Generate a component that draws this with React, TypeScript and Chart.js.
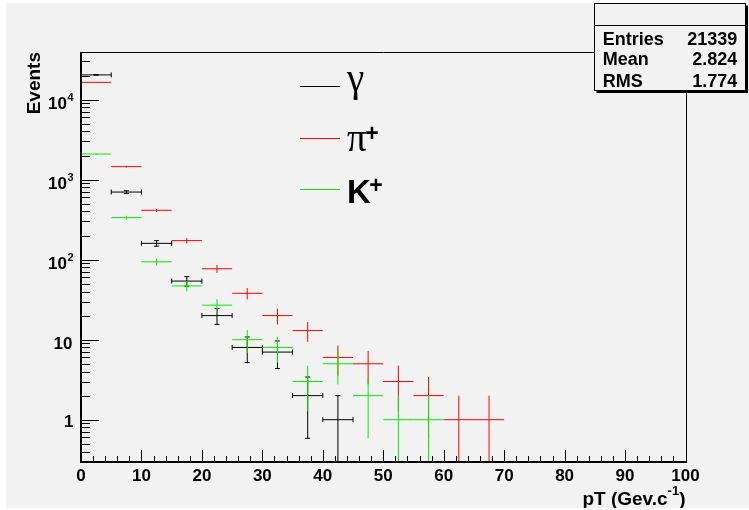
import { useEffect, useRef } from "react";
import { Chart, registerables } from "chart.js";

Chart.register(...registerables);

// pT bins (GeV/c), 5 GeV wide
const binCenters = [2.5, 7.5, 12.5, 17.5, 22.5, 27.5, 32.5, 37.5, 42.5, 47.5, 52.5, 57.5, 62.5, 67.5];
const binWidth = 5;

// event counts per bin
const gammaCounts = [20387, 700, 160, 54, 20, 8, 7, 2, 1];
const pionCounts = [16450, 1455, 414, 173, 77, 38, 20, 13, 6, 5, 3, 2, 1, 1];
const kaonCounts = [2090, 335, 94, 47, 27, 10, 8, 3, 5, 2, 1, 1];

// axes
const xTickValues = [0, 10, 20, 30, 40, 50, 60, 70, 80, 90, 100];
const yTickExponents = [0, 1, 2, 3, 4];
const xRange = [0, 100];
const yRange = [0.296, 39400];

// legend entries: [symbol, superscript]
const legendEntries: [string, string][] = [["γ", ""], ["π", "+"], ["K", "+"]];

// statistics box rows
const statsRows: [string, string][] = [
  ["Entries", "21339"],
  ["Mean", "2.824"],
  ["RMS", "1.774"],
];

const SANS = "'Liberation Sans', Arial, sans-serif";
const SERIF = "'Liberation Serif', 'Times New Roman', serif";
const BG = "#f2f2f2";

const seriesStyles = [
  { color: "#000000", caps: true },
  { color: "#ff0000", caps: false },
  { color: "#00ee00", caps: false },
];

const histoPlugin = {
  id: "histoPlugin",
  afterDatasetsDraw(chart: any) {
    const { ctx, chartArea } = chart;
    const xs = chart.scales.x;
    const ys = chart.scales.y;
    ctx.save();
    ctx.beginPath();
    ctx.rect(chartArea.left, chartArea.top, chartArea.right - chartArea.left, chartArea.bottom - chartArea.top);
    ctx.clip();
    chart.data.datasets.forEach((ds: any, i: number) => {
      const style = seriesStyles[i];
      ctx.strokeStyle = style.color;
      ctx.lineWidth = 1;
      ds.data.forEach((p: any) => {
        const xl = xs.getPixelForValue(p.x - binWidth / 2);
        const xr = xs.getPixelForValue(p.x + binWidth / 2);
        const xc = xs.getPixelForValue(p.x);
        const yc = ys.getPixelForValue(p.y);
        const err = Math.sqrt(p.y);
        const yt = ys.getPixelForValue(p.y + err);
        const lo = p.y - err;
        const yb = lo > 0 ? ys.getPixelForValue(lo) : chartArea.bottom + 2;
        ctx.beginPath();
        ctx.moveTo(xl, yc);
        ctx.lineTo(xr, yc);
        ctx.moveTo(xc, yt);
        ctx.lineTo(xc, yb);
        if (style.caps) {
          const c = 2.5;
          ctx.moveTo(xl, yc - c);
          ctx.lineTo(xl, yc + c);
          ctx.moveTo(xr, yc - c);
          ctx.lineTo(xr, yc + c);
          ctx.moveTo(xc - c, yt);
          ctx.lineTo(xc + c, yt);
          if (lo > 0) {
            ctx.moveTo(xc - c, yb);
            ctx.lineTo(xc + c, yb);
          }
        }
        ctx.stroke();
      });
    });
    ctx.restore();
  },
  afterDraw(chart: any) {
    const { ctx, chartArea } = chart;
    const xs = chart.scales.x;
    const ys = chart.scales.y;
    const { left, right, top, bottom } = chartArea;
    ctx.save();

    // frame (crisp 1px top/right, 2px axes on left/bottom)
    const L = Math.round(left), R = Math.round(right), T = Math.round(top), B = Math.round(bottom);
    ctx.strokeStyle = "#000";
    ctx.lineWidth = 1;
    ctx.beginPath();
    ctx.moveTo(L, T + 0.5);
    ctx.lineTo(R + 0.5, T + 0.5);
    ctx.lineTo(R + 0.5, B);
    ctx.stroke();
    ctx.lineWidth = 2;
    ctx.beginPath();
    ctx.moveTo(L, T);
    ctx.lineTo(L, B);
    ctx.lineTo(R + 1, B);
    ctx.stroke();

    // x ticks (inside)
    ctx.lineWidth = 1;
    ctx.beginPath();
    for (let v = xRange[0]; v <= xRange[1]; v += 2) {
      const x = Math.round(xs.getPixelForValue(v)) + 0.5;
      const len = v % 10 === 0 ? 12 : 6;
      ctx.moveTo(x, B);
      ctx.lineTo(x, B - len);
    }
    ctx.stroke();

    // y ticks (inside, logarithmic)
    ctx.beginPath();
    for (let e = -1; e <= 4; e++) {
      for (let k = 1; k <= 9; k++) {
        const v = k * Math.pow(10, e);
        if (v < yRange[0] || v > yRange[1]) continue;
        const y = Math.round(ys.getPixelForValue(v)) + 0.5;
        const len = k === 1 ? 18 : 9;
        ctx.moveTo(L, y);
        ctx.lineTo(L + len, y);
      }
    }
    ctx.stroke();

    // x tick labels
    ctx.fillStyle = "#000";
    ctx.font = `bold 17px ${SANS}`;
    ctx.textAlign = "center";
    ctx.textBaseline = "alphabetic";
    xTickValues.forEach((v) => {
      ctx.fillText(String(v), xs.getPixelForValue(v), 477.7);
    });

    // y tick labels
    const yLabelRight = 67.5;
    yTickExponents.forEach((e) => {
      const y = ys.getPixelForValue(Math.pow(10, e));
      ctx.textAlign = "right";
      if (e === 0) {
        ctx.font = `bold 17px ${SANS}`;
        ctx.fillText("1", yLabelRight, y + 7);
      } else if (e === 1) {
        ctx.font = `bold 17px ${SANS}`;
        ctx.fillText("10", yLabelRight - 1, y + 9);
      } else {
        ctx.font = `bold 11px ${SANS}`;
        const sup = String(e);
        const sw = ctx.measureText(sup).width;
        ctx.fillText(sup, yLabelRight, y + 1.5);
        ctx.font = `bold 17px ${SANS}`;
        ctx.fillText("10", yLabelRight - sw - 0.5, y + 9);
      }
    });

    // y title
    ctx.save();
    ctx.translate(34, top);
    ctx.rotate(-Math.PI / 2);
    ctx.font = `bold 19px ${SANS}`;
    ctx.textAlign = "right";
    ctx.fillText("Events", 0, 0);
    ctx.restore();

    // x title: pT (Gev.c^-1)
    ctx.textAlign = "left";
    ctx.font = `bold 19px ${SANS}`;
    const t1 = "pT (Gev.c";
    const t3 = ")";
    const w1 = ctx.measureText(t1).width;
    const w3 = ctx.measureText(t3).width;
    ctx.font = `bold 13px ${SANS}`;
    const t2 = "-1";
    const w2 = ctx.measureText(t2).width;
    let xt = right - (w1 + w2 + w3);
    ctx.font = `bold 19px ${SANS}`;
    ctx.fillText(t1, xt, 502);
    xt += w1;
    ctx.font = `bold 13px ${SANS}`;
    ctx.fillText(t2, xt, 492);
    xt += w2;
    ctx.font = `bold 19px ${SANS}`;
    ctx.fillText(t3, xt, 502);

    // legend
    const legendLineY = [83.5, 135.5, 186.5];
    const legendBase = [88, 147.7, 200.3];
    legendEntries.forEach(([sym, sup], i) => {
      ctx.strokeStyle = seriesStyles[i].color;
      ctx.lineWidth = 1;
      ctx.beginPath();
      ctx.moveTo(294, legendLineY[i]);
      ctx.lineTo(334, legendLineY[i]);
      ctx.stroke();
      ctx.fillStyle = "#000";
      ctx.textAlign = "left";
      if (i < 2) {
        ctx.font = `39px ${SERIF}`;
      } else {
        ctx.font = `bold 33px ${SANS}`;
      }
      ctx.fillText(sym, 341, legendBase[i]);
      if (sup) {
        const sw = ctx.measureText(sym).width;
        ctx.font = `bold 23px ${SANS}`;
        ctx.fillText(sup, 341 + sw - 1.5, legendBase[i] - 10);
      }
    });

    // statistics box
    const bx = 588.5, by = 0.5, bw = 151, bh = 87;
    ctx.fillStyle = "#000";
    ctx.fillRect(bx + bw, by + 2, 2.5, bh);
    ctx.fillRect(bx + 2, by + bh, bw + 0.5, 2.5);
    ctx.fillStyle = BG;
    ctx.fillRect(bx, by, bw, bh);
    ctx.strokeStyle = "#000";
    ctx.lineWidth = 1;
    ctx.strokeRect(bx, by, bw, bh);
    ctx.beginPath();
    ctx.moveTo(bx, 22.5);
    ctx.lineTo(bx + bw, 22.5);
    ctx.stroke();
    ctx.fillStyle = "#000";
    ctx.font = `bold 18px ${SANS}`;
    const rowBase = [42, 62, 84];
    statsRows.forEach(([k, v], i) => {
      ctx.textAlign = "left";
      ctx.fillText(k, 596.7, rowBase[i]);
      ctx.textAlign = "right";
      ctx.fillText(v, 731.3, rowBase[i]);
    });

    ctx.restore();
  },
};

export default function App() {
  const canvasRef = useRef<HTMLCanvasElement>(null);

  useEffect(() => {
    const toPoints = (counts: number[]) => counts.map((c, i) => ({ x: binCenters[i], y: c }));
    const chart = new Chart(canvasRef.current!, {
      type: "scatter",
      data: {
        datasets: [
          { label: "γ", data: toPoints(gammaCounts), pointRadius: 0, showLine: false, borderColor: seriesStyles[0].color },
          { label: "π+", data: toPoints(pionCounts), pointRadius: 0, showLine: false, borderColor: seriesStyles[1].color },
          { label: "K+", data: toPoints(kaonCounts), pointRadius: 0, showLine: false, borderColor: seriesStyles[2].color },
        ],
      },
      options: {
        responsive: false,
        animation: false,
        devicePixelRatio: 1,
        layout: { padding: { left: 75, top: 49, right: 63.5, bottom: 46 } },
        scales: {
          x: { type: "linear", min: xRange[0], max: xRange[1], display: false },
          y: { type: "logarithmic", min: yRange[0], max: yRange[1], display: false },
        },
        plugins: {
          legend: { display: false },
          tooltip: { enabled: false },
        },
        events: [],
      },
      plugins: [histoPlugin],
    });
    return () => chart.destroy();
  }, []);

  return (
    <div
      style={{
        position: "fixed",
        left: 6,
        top: 3,
        width: 743,
        height: 505,
        background: BG,
      }}
    >
      <canvas ref={canvasRef} width={743} height={505} style={{ display: "block", width: 743, height: 505 }} />
    </div>
  );
}
